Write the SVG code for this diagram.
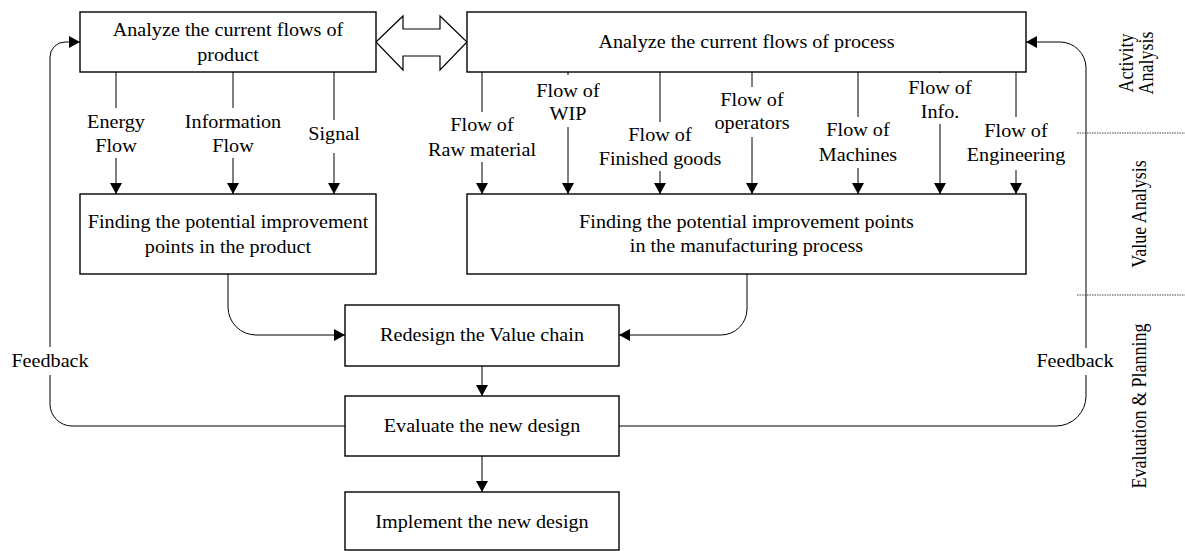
<svg xmlns="http://www.w3.org/2000/svg" width="1185" height="551" viewBox="0 0 1185 551">
<style>
.box{fill:#fff;stroke:#000;stroke-width:1.4}
.ln{fill:none;stroke:#000;stroke-width:1}
.t{font-family:"Liberation Serif","Times New Roman",serif;font-size:18px;fill:#000;text-anchor:middle}
.dash{stroke:#444;stroke-width:1;stroke-dasharray:1.5 1}
</style>
<defs>
<marker id="ah" viewBox="0 0 11 12" refX="11" refY="6" markerWidth="11" markerHeight="12" markerUnits="userSpaceOnUse" orient="auto">
<path d="M0,0 L11,6 L0,12 z" fill="#000"/>
</marker>
</defs>
<rect width="1185" height="551" fill="#fff"/>

<g id="connectors">
<g class="ln" marker-end="url(#ah)">
<path d="M116,158 V194"/>
<path d="M233,158 V194"/>
<path d="M334,153 V194"/>
<path d="M482,162 V194"/>
<path d="M568,127 V194"/>
<path d="M660,171 V194"/>
<path d="M752,137 V194"/>
<path d="M858,168 V194"/>
<path d="M940,124 V194"/>
<path d="M1016,170 V194"/>
<path d="M228,274 V307 A28,28 0 0 0 256,335 H345"/>
<path d="M747,274 V309 A26,26 0 0 1 721,335 H619"/>
<path d="M482,366 V396"/>
<path d="M482,456 V492"/>
<path d="M50,347 V57 A15,15 0 0 1 65,42 H80"/>
<path d="M1086,348 V68 A26,26 0 0 0 1060,42 H1026"/>
</g>
<g class="ln">
<path d="M116,72 V108"/>
<path d="M233,72 V108"/>
<path d="M334,72 V120"/>
<path d="M482,72 V112"/>
<path d="M568,72 V75"/>
<path d="M660,72 V122"/>
<path d="M752,72 V87"/>
<path d="M858,72 V117"/>
<path d="M940,72 V73"/>
<path d="M1016,72 V117"/>
<path d="M345,426 H72 A22,22 0 0 1 50,404 V375"/>
<path d="M619,426 H1056 A30,30 0 0 0 1086,396 V375"/>
</g>
<line class="dash" x1="1077" y1="133" x2="1185" y2="133"/>
<line class="dash" x1="1077" y1="295" x2="1185" y2="295"/>
<polygon points="376,42 403,16 403,29 440,29 440,16 467,42 440,70 440,56 403,56 403,70" fill="#fff" stroke="#000" stroke-width="1.2"/>
</g>

<g id="flow-labels">
<g transform="translate(116,0) scale(1.12,1)"><text class="t" x="0" y="128">Energy</text><text class="t" x="0" y="152">Flow</text></g>
<g transform="translate(233,0) scale(1.12,1)"><text class="t" x="0" y="128">Information</text><text class="t" x="0" y="152">Flow</text></g>
<g transform="translate(334,0) scale(1.12,1)"><text class="t" x="0" y="140">Signal</text></g>
<g transform="translate(482,0) scale(1.12,1)"><text class="t" x="0" y="131">Flow of</text><text class="t" x="0" y="156">Raw material</text></g>
<g transform="translate(568,0) scale(1.12,1)"><text class="t" x="0" y="97">Flow of</text><text class="t" x="0" y="120">WIP</text></g>
<g transform="translate(660,0) scale(1.12,1)"><text class="t" x="0" y="141">Flow of</text><text class="t" x="0" y="165">Finished goods</text></g>
<g transform="translate(752,0) scale(1.12,1)"><text class="t" x="0" y="106">Flow of</text><text class="t" x="0" y="129">operators</text></g>
<g transform="translate(858,0) scale(1.12,1)"><text class="t" x="0" y="136">Flow of</text><text class="t" x="0" y="161">Machines</text></g>
<g transform="translate(940,0) scale(1.12,1)"><text class="t" x="0" y="94">Flow of</text><text class="t" x="0" y="118">Info.</text></g>
<g transform="translate(1016,0) scale(1.12,1)"><text class="t" x="0" y="137">Flow of</text><text class="t" x="0" y="161">Engineering</text></g>
<g transform="translate(50,0) scale(1.12,1)"><text class="t" x="0" y="367">Feedback</text></g>
<g transform="translate(1075,0) scale(1.12,1)"><text class="t" x="0" y="367">Feedback</text></g>
</g>

<g id="product-flows">
<rect class="box" x="80" y="12" width="296" height="60"/>
<g transform="translate(228,0) scale(1.12,1)"><text class="t" x="0" y="36">Analyze the current flows of</text><text class="t" x="0" y="61">product</text></g>
</g>
<g id="process-flows">
<rect class="box" x="467" y="12" width="559" height="60"/>
<g transform="translate(746.5,0) scale(1.12,1)"><text class="t" x="0" y="48">Analyze the current flows of process</text></g>
</g>
<g id="product-points">
<rect class="box" x="80" y="194" width="296" height="80"/>
<g transform="translate(228,0) scale(1.12,1)"><text class="t" x="0" y="228">Finding the potential improvement</text><text class="t" x="0" y="253">points in the product</text></g>
</g>
<g id="process-points">
<rect class="box" x="467" y="194" width="559" height="80"/>
<g transform="translate(746.5,0) scale(1.12,1)"><text class="t" x="0" y="228">Finding the potential improvement points</text><text class="t" x="0" y="252">in the manufacturing process</text></g>
</g>
<g id="redesign">
<rect class="box" x="345" y="305" width="274" height="61"/>
<g transform="translate(482,0) scale(1.12,1)"><text class="t" x="0" y="341">Redesign the Value chain</text></g>
</g>
<g id="evaluate">
<rect class="box" x="345" y="396" width="274" height="60"/>
<g transform="translate(482,0) scale(1.12,1)"><text class="t" x="0" y="432">Evaluate the new design</text></g>
</g>
<g id="implement">
<rect class="box" x="345" y="492" width="274" height="58"/>
<g transform="translate(482,0) scale(1.12,1)"><text class="t" x="0" y="528">Implement the new design</text></g>
</g>

<g id="phase-labels">
<text class="t" transform="translate(1133,63) scale(1.12,1) rotate(-90)">Activity</text>
<text class="t" transform="translate(1153,63) scale(1.12,1) rotate(-90)">Analysis</text>
<text class="t" transform="translate(1146,214) scale(1.12,1) rotate(-90)">Value Analysis</text>
<text class="t" transform="translate(1146,406) scale(1.12,1) rotate(-90)">Evaluation &amp; Planning</text>
</g>
</svg>
